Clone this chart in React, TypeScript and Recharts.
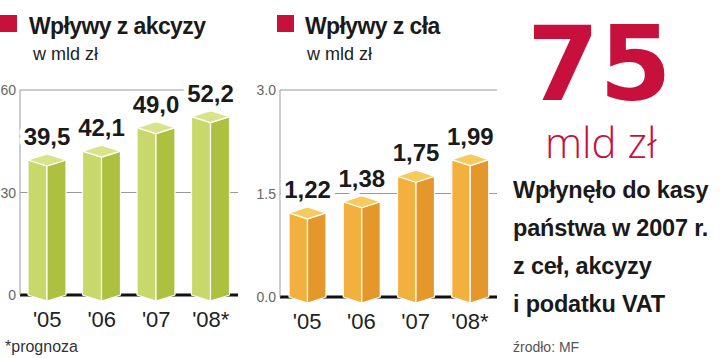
import React from 'react';
import { BarChart, Bar, XAxis, YAxis, CartesianGrid, LabelList } from 'recharts';

const categories = ["'05", "'06", "'07", "'08*"];
const exciseValues = [39.5, 42.1, 49.0, 52.2];
const customsValues = [1.22, 1.38, 1.75, 1.99];
const exciseTicks = [0, 30, 60];
const customsTicks = [0, 1.5, 3];

const exciseData = categories.map((c, i) => ({ cat: c, value: exciseValues[i] }));
const customsData = categories.map((c, i) => ({ cat: c, value: customsValues[i] }));

const RED = '#c8103c';
const FONT = '"Liberation Sans", Arial, sans-serif';

const greenColors = { top: '#d9e48a', left: '#c8d86a', right: '#aec040' };
const orangeColors = { top: '#f7ca60', left: '#f2b13e', right: '#e4972a' };

function makeBox(colors: { top: string; left: string; right: string }) {
  return (props: any) => {
    const { x, y, width, height } = props;
    if (width == null || height == null || isNaN(x) || isNaN(y)) return null;
    const d = 6;
    const cx = x + width / 2;
    const b = y + height;
    const r = x + width;
    const common = { stroke: '#ffffff', strokeWidth: 1.2, strokeLinejoin: 'round' as const };
    return (
      <g>
        <polygon points={`${x},${y} ${cx},${y + d} ${cx},${b + d} ${x},${b}`} fill={colors.left} {...common} />
        <polygon points={`${cx},${y + d} ${r},${y} ${r},${b} ${cx},${b + d}`} fill={colors.right} {...common} />
        <polygon points={`${x},${y} ${cx},${y - d} ${r},${y} ${cx},${y + d}`} fill={colors.top} {...common} />
      </g>
    );
  };
}

function makeValueLabel(fmt: (v: number) => string) {
  return (props: any) => {
    const { x, y, width, value } = props;
    return (
      <text
        x={x + width / 2}
        y={y - 15}
        textAnchor="middle"
        fontFamily={FONT}
        fontWeight={700}
        fontSize={24}
        fill="#1a1a1a"
        stroke="#ffffff"
        strokeWidth={10}
        strokeLinejoin="round"
        paintOrder="stroke"
      >
        {fmt(value)}
      </text>
    );
  };
}

const XTick = (props: any) => {
  const { x, y, payload } = props;
  return (
    <text x={x} y={y + 32} textAnchor="middle" fontFamily={FONT} fontSize={22} fill="#222">
      {payload.value}
    </text>
  );
};

function makeYTick(fmt: (v: number) => string) {
  return (props: any) => {
    const { x, y, payload } = props;
    return (
      <text x={x - 4} y={y + 5} textAnchor="end" fontFamily={FONT} fontSize={14} fill="#666">
        {fmt(payload.value)}
      </text>
    );
  };
}

const exciseFmt = (v: number) => v.toFixed(1).replace('.', ',');
const customsFmt = (v: number) => v.toFixed(2).replace('.', ',');

export default function App() {
  return (
    <div style={{ position: 'absolute', left: 0, top: 0, width: 720, height: 358, background: '#fff', overflow: 'hidden' }}>
      <div style={{ position: 'absolute', left: 0, top: 0 }}>
        <BarChart width={250} height={358} data={exciseData} margin={{ top: 90, right: 12, bottom: 33, left: 0 }}>
          <CartesianGrid vertical={false} horizontalValues={[30, 60]} stroke="#999" strokeWidth={1} />
          <CartesianGrid vertical={false} horizontalValues={[0]} stroke="#111" strokeWidth={3} />
          <XAxis dataKey="cat" height={30} axisLine={false} tickLine={false} tickSize={0} tickMargin={0} tick={<XTick />} interval={0} />
          <YAxis width={20} domain={[0, 60]} ticks={exciseTicks} axisLine={{ stroke: '#999' }} tickLine={false} tickSize={0} tickMargin={0} tick={makeYTick((v) => String(v))} interval={0} />
          <Bar dataKey="value" barSize={38} isAnimationActive={false} shape={makeBox(greenColors)}>
            <LabelList dataKey="value" content={makeValueLabel(exciseFmt)} />
          </Bar>
        </BarChart>
      </div>
      <div style={{ position: 'absolute', left: 250, top: 0 }}>
        <BarChart width={260} height={358} data={customsData} margin={{ top: 90, right: 13, bottom: 31, left: 0 }}>
          <CartesianGrid vertical={false} horizontalValues={[1.5, 3]} stroke="#999" strokeWidth={1} />
          <CartesianGrid vertical={false} horizontalValues={[0]} stroke="#111" strokeWidth={3} />
          <XAxis dataKey="cat" height={30} axisLine={false} tickLine={false} tickSize={0} tickMargin={0} tick={<XTick />} interval={0} />
          <YAxis width={30} domain={[0, 3]} ticks={customsTicks} axisLine={{ stroke: '#999' }} tickLine={false} tickSize={0} tickMargin={0} tick={makeYTick((v) => v.toFixed(1))} interval={0} />
          <Bar dataKey="value" barSize={37} isAnimationActive={false} shape={makeBox(orangeColors)}>
            <LabelList dataKey="value" content={makeValueLabel(customsFmt)} />
          </Bar>
        </BarChart>
      </div>
      <svg width={720} height={358} style={{ position: 'absolute', left: 0, top: 0, pointerEvents: 'none' }}>
        <rect x={0} y={15} width={17} height={17} fill={RED} />
        <text x={29} y={34} fontFamily={FONT} fontWeight={700} fontSize={23} letterSpacing={-0.6} fill="#1a1a1a">Wpływy z akcyzy</text>
        <text x={33} y={60} fontFamily={FONT} fontSize={18} fill="#222">w mld zł</text>
        <rect x={277} y={15} width={17} height={17} fill={RED} />
        <text x={305} y={34} fontFamily={FONT} fontWeight={700} fontSize={23} letterSpacing={-0.6} fill="#1a1a1a">Wpływy z cła</text>
        <text x={307} y={60} fontFamily={FONT} fontSize={18} fill="#222">w mld zł</text>
        <text x={527} y={100} fontFamily='"DejaVu Sans", sans-serif' fontWeight={700} fontSize={104} fill={RED}>75</text>
        <text x={545} y={158} fontFamily='"Open Sans", sans-serif' fontWeight={300} fontSize={42} fill={RED}>mld zł</text>
        <text fontFamily={FONT} fontWeight={700} fontSize={23.5} fill="#1a1a1a" letterSpacing={-0.2}>
          <tspan x={513} y={198}>Wpłynęło do kasy</tspan>
          <tspan x={513} y={236}>państwa w 2007 r.</tspan>
          <tspan x={513} y={274}>z ceł, akcyzy</tspan>
          <tspan x={513} y={312}>i podatku VAT</tspan>
        </text>
        <text x={513} y={352} fontFamily={FONT} fontSize={14} fill="#555">źrodło: MF</text>
        <text x={5} y={352} fontFamily={FONT} fontSize={16} fill="#333">*prognoza</text>
      </svg>
    </div>
  );
}
